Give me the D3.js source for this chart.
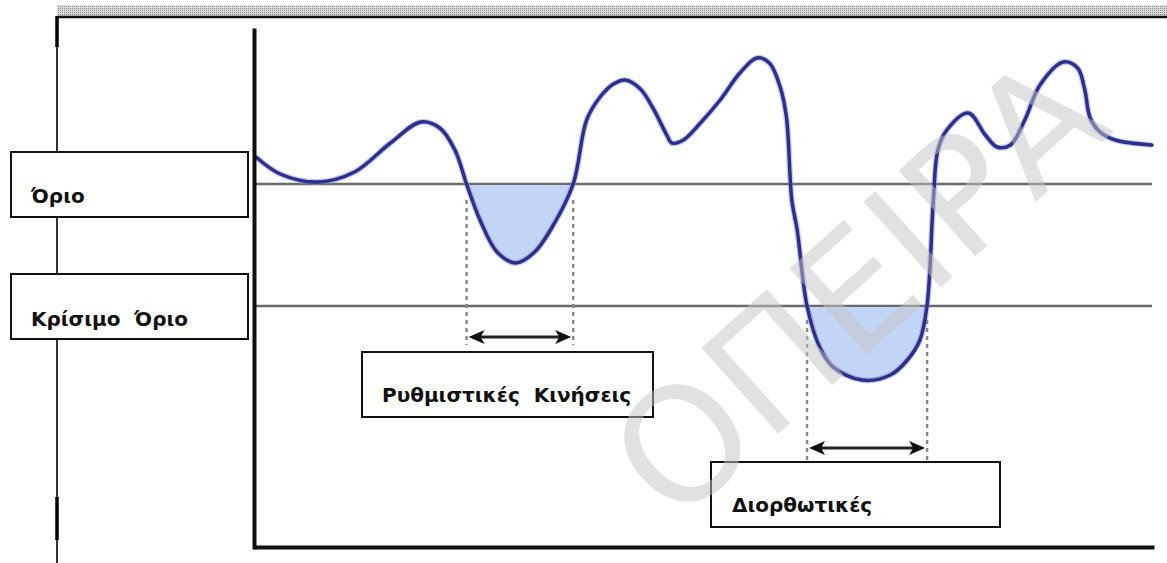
<!DOCTYPE html>
<html>
<head>
<meta charset="utf-8">
<script src="https://cdn.jsdelivr.net/npm/d3@7/dist/d3.min.js"></script>
<style>
  body { margin: 0; background: #fff; }
  svg { display: block; }
  .lbl { font-family: "DejaVu Sans", sans-serif; font-weight: bold; font-size: 20px; white-space: pre; }
</style>
</head>
<body>
<div id="chart"></div>
<script>
// curve: time step -> level
const timeSteps = [0, 2.7, 6.9, 11.0, 15.0, 18.4, 20.5, 22.2, 23.5, 25.0, 26.9, 29.0, 31.1, 33.0, 35.4,
  36.9, 38.4, 39.9, 41.2, 42.9, 44.3, 45.9, 46.4, 47.7, 49.6, 51.8, 54.0, 55.9, 57.3, 58.5,
  59.2, 59.8, 60.4, 61.5, 62.9, 64.4, 67.6, 70.8, 72.7, 74.1, 74.9, 75.6, 76.1, 77.1, 79.5,
  81.4, 82.7, 84.2, 85.8, 87.5, 90.1, 91.7, 92.5, 93.1, 94.2, 95.9, 100];
const levels = [78.0, 74.6, 73.0, 75.0, 80.8, 85.0, 83.8, 79.4, 72.6, 65.4, 59.0, 56.8, 59.0, 63.8, 72.6,
  85.4, 90.0, 92.6, 93.4, 91.6, 87.8, 82.2, 80.8, 81.4, 84.8, 89.4, 94.8, 97.8, 96.8, 92.0,
  86.0, 69.4, 63.4, 48.2, 40.0, 36.0, 33.4, 34.4, 37.4, 41.4, 48.4, 69.4, 79.4, 83.4, 86.8,
  82.4, 80.0, 80.4, 85.4, 92.4, 97.0, 95.8, 91.4, 85.8, 83.0, 81.4, 80.4];

const limitLevel = 72.6;
const criticalLevel = 48.2;

// shaded dips: [start, end], level of the threshold, arrow level, guide line extent
const spans = [
  { from: 23.5, to: 35.4, threshold: limitLevel, arrow: 42.0, guide: [69.4, 40.4] },
  { from: 61.5, to: 74.9, threshold: criticalLevel, arrow: 19.8, guide: [45.4, 17.4] }
];

const labels = ["Όριο", "Κρίσιμο  Όριο", "Ρυθμιστικές  Κινήσεις", "Διορθωτικές"];
const watermark = "ΟΠΕΙΡΑ";

const width = 1167, height = 563;
const data = timeSteps.map((t, i) => [t, levels[i]]);

const svg = d3.select("#chart").append("svg")
  .attr("width", width)
  .attr("height", height);

const defs = svg.append("defs");
const dots = defs.append("pattern")
  .attr("id", "dots")
  .attr("width", 2).attr("height", 2)
  .attr("patternUnits", "userSpaceOnUse");
dots.append("rect").attr("width", 2).attr("height", 2).attr("fill", "#dcdcdc");
dots.append("rect").attr("width", 1).attr("height", 1).attr("fill", "#8a8a8a");

// frame around the figure
svg.append("rect")
  .attr("x", 57).attr("y", 5).attr("width", width - 57).attr("height", 11)
  .attr("fill", "url(#dots)");
svg.append("line")
  .attr("x1", 57).attr("x2", width).attr("y1", 17).attr("y2", 17)
  .attr("stroke", "#111").attr("stroke-width", 2.5);
svg.append("line")
  .attr("x1", 57).attr("x2", 57).attr("y1", 16).attr("y2", height)
  .attr("stroke", "#333").attr("stroke-width", 2);
[[16, 47], [497, 540]].forEach(s => {
  svg.append("line")
    .attr("x1", 57).attr("x2", 57).attr("y1", s[0]).attr("y2", s[1])
    .attr("stroke", "#000").attr("stroke-width", 3.5);
});

const xScale = d3.scaleLinear().domain([0, 100]).range([256, 1152]);
const yScale = d3.scaleLinear().domain([0, 103.4]).range([547, 30]);

// threshold lines
[limitLevel, criticalLevel].forEach(v => {
  svg.append("line")
    .attr("x1", xScale(0) - 2).attr("x2", xScale(100))
    .attr("y1", yScale(v)).attr("y2", yScale(v))
    .attr("stroke", "#6a6a6a").attr("stroke-width", 2.5);
});

const curve = d3.curveCatmullRom.alpha(0.5);

// shaded dips under each threshold
spans.forEach((s, i) => {
  const clipId = "clip" + i;
  defs.append("clipPath").attr("id", clipId)
    .append("rect")
    .attr("x", xScale(s.from)).attr("width", xScale(s.to) - xScale(s.from))
    .attr("y", yScale(s.threshold) + 1).attr("height", height);
  const area = d3.area()
    .x(d => xScale(d[0]))
    .y0(yScale(s.threshold))
    .y1(d => yScale(d[1]))
    .curve(curve);
  svg.append("path")
    .datum(data)
    .attr("clip-path", `url(#${clipId})`)
    .attr("fill", "#c3d5f6")
    .attr("d", area);
});

// dotted guides and arrows
spans.forEach(s => {
  [s.from, s.to].forEach(t => {
    svg.append("line")
      .attr("x1", xScale(t)).attr("x2", xScale(t))
      .attr("y1", yScale(s.guide[0])).attr("y2", yScale(s.guide[1]))
      .attr("stroke", "#888").attr("stroke-width", 2.4)
      .attr("stroke-dasharray", "4,4");
  });
  const ay = yScale(s.arrow);
  const x0 = xScale(s.from) + 2, x1 = xScale(s.to) - 2;
  svg.append("line")
    .attr("x1", x0 + 10).attr("x2", x1 - 10).attr("y1", ay).attr("y2", ay)
    .attr("stroke", "#222").attr("stroke-width", 3);
  svg.append("path")
    .attr("d", `M${x0},${ay}L${x0 + 16},${ay - 7}L${x0 + 12},${ay}L${x0 + 16},${ay + 7}Z`)
    .attr("fill", "#111");
  svg.append("path")
    .attr("d", `M${x1},${ay}L${x1 - 16},${ay - 7}L${x1 - 12},${ay}L${x1 - 16},${ay + 7}Z`)
    .attr("fill", "#111");
});

// the level curve
const line = d3.line()
  .x(d => xScale(d[0]))
  .y(d => yScale(d[1]))
  .curve(curve);
svg.append("path")
  .datum(data)
  .attr("fill", "none")
  .attr("stroke", "#8a8ccc")
  .attr("stroke-width", 6)
  .attr("stroke-opacity", 0.45)
  .attr("d", line);
svg.append("path")
  .datum(data)
  .attr("fill", "none")
  .attr("stroke", "#2c2f8c")
  .attr("stroke-width", 3.5)
  .attr("stroke-linejoin", "round")
  .attr("stroke-linecap", "round")
  .attr("d", line);

// axes (just the domain lines, no ticks)
const xAxis = d3.axisBottom(xScale).ticks(0).tickSizeOuter(0);
const yAxis = d3.axisLeft(yScale).ticks(0).tickSizeOuter(0);
svg.append("g")
  .attr("transform", `translate(0,${yScale(0)})`)
  .call(xAxis)
  .call(g => g.select(".domain").attr("stroke", "#111").attr("stroke-width", 4).attr("stroke-linecap", "square"));
svg.append("g")
  .attr("transform", `translate(${xScale(0) - 2},0)`)
  .call(yAxis)
  .call(g => g.select(".domain").attr("stroke", "#111").attr("stroke-width", 4).attr("stroke-linecap", "square"));

// label boxes
const boxes = [
  { x: 11, y: 152, w: 237, h: 65, tx: 31, ty: 203 },
  { x: 11, y: 274, w: 237, h: 65, tx: 31, ty: 326 },
  { x: 362, y: 352, w: 291, h: 65, tx: 382, ty: 402 },
  { x: 711, y: 462, w: 289, h: 65, tx: 732, ty: 512 }
];
boxes.forEach((b, i) => {
  svg.append("rect")
    .attr("x", b.x).attr("y", b.y).attr("width", b.w).attr("height", b.h)
    .attr("fill", "#fff").attr("stroke", "#111").attr("stroke-width", 2);
  svg.append("text")
    .attr("class", "lbl")
    .attr("x", b.tx).attr("y", b.ty)
    .attr("fill", "#111")
    .text(labels[i]);
});

// faint diagonal watermark over everything (kept inside the picture)
svg.append("text")
  .attr("transform", "translate(858,288) rotate(-42)")
  .attr("text-anchor", "middle")
  .attr("dominant-baseline", "central")
  .attr("font-family", "DejaVu Sans, sans-serif")
  .attr("font-size", 158)
  .attr("fill", "#c4c4c4")
  .attr("fill-opacity", 0.5)
  .text(watermark);
</script>
</body>
</html>
